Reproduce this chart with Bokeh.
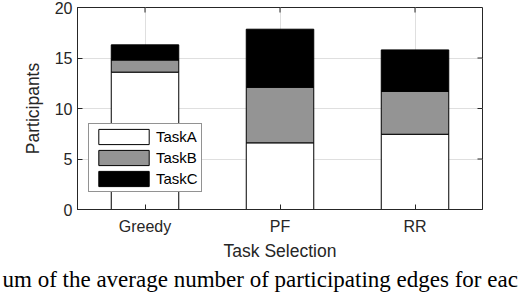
from bokeh.plotting import figure
from bokeh.models import (FactorRange, Range1d, FixedTicker, Legend, LegendItem, Title,
                          ColumnDataSource)
from bokeh.embed import file_html
from bokeh.resources import INLINE

categories = ["Greedy", "PF", "RR"]
task_a = [13.6, 6.6, 7.45]
task_b = [1.2, 5.5, 4.25]
task_c = [1.5, 5.75, 4.1]
series = ["TaskA", "TaskB", "TaskC"]
colors = ["#ffffff", "#949494", "#000000"]
y_ticks = [0, 5, 10, 15, 20]
x_label = "Task Selection"
y_label = "Participants"
caption = "um of the average number of participating edges for each"

source = ColumnDataSource(dict(cat=categories, TaskA=task_a, TaskB=task_b, TaskC=task_c))

AX = "#262626"
FONT = "Liberation Sans"

p = figure(width=518, height=292,
           x_range=FactorRange(*categories, range_padding=0),
           y_range=Range1d(y_ticks[0], y_ticks[-1]),
           output_backend="svg", toolbar_location=None,
           min_border_left=77, min_border_right=36, min_border_top=7, min_border_bottom=83)
p.background_fill_color = "white"
p.border_fill_color = "white"
p.outline_line_color = AX
p.outline_line_width = 1

renderers = p.vbar_stack(series, x="cat", width=0.5, source=source,
                         fill_color=colors, line_color="black", line_width=1)

# grids
p.xgrid.grid_line_color = "#dfdfdf"
p.ygrid.grid_line_color = "#dfdfdf"
p.ygrid.ticker = FixedTicker(ticks=y_ticks)

def style_axis(ax):
    ax.axis_line_color = AX
    ax.axis_line_width = 1
    ax.major_tick_line_color = AX
    ax.major_tick_in = 5
    ax.major_tick_out = 0
    ax.minor_tick_line_color = None
    ax.major_label_text_font = FONT
    ax.major_label_text_color = AX
    ax.axis_label_text_font = FONT
    ax.axis_label_text_font_style = "normal"
    ax.axis_label_text_color = AX

xa = p.xaxis[0]
style_axis(xa)
xa.major_label_text_font_size = "16px"
xa.major_label_standoff = 8
xa.axis_label = x_label
xa.axis_label_text_font_size = "17.5px"
xa.axis_label_standoff = 3

ya = p.yaxis[0]
style_axis(ya)
ya.ticker = FixedTicker(ticks=y_ticks)
ya.major_label_text_font_size = "16px"
ya.major_label_standoff = 5
ya.axis_label = y_label
ya.axis_label_text_font_size = "17.5px"
ya.axis_label_standoff = 9

# inward ticks on the top and right edges of the box
p.ray(x=categories, y=[y_ticks[-1]] * len(categories), length=5, length_units="screen",
      angle=-90, angle_units="deg", line_color=AX, line_width=1)
p.ray(x=[len(categories)] * (len(y_ticks) - 2), y=y_ticks[1:-1], length=5, length_units="screen",
      angle=180, angle_units="deg", line_color=AX, line_width=1)

legend = Legend(items=[LegendItem(label=s, renderers=[r]) for s, r in zip(series, renderers)],
                location=(11, 17))
legend.border_line_color = "#262626"
legend.border_line_width = 1
legend.background_fill_color = "white"
legend.background_fill_alpha = 1
legend.label_text_font = FONT
legend.label_text_font_size = "15px"
legend.label_text_color = "black"
legend.glyph_width = 63
legend.glyph_height = 19
legend.spacing = 2
legend.padding = 3
legend.margin = 0
legend.label_standoff = 1
p.add_layout(legend, "center")

cap = Title(text=caption, align="left", offset=-75, standoff=2,
            text_font="Liberation Serif", text_font_size="23px", text_color="black",
            text_font_style="normal")
p.add_layout(cap, "below")

open("out.html", "w").write(file_html(p, INLINE))
